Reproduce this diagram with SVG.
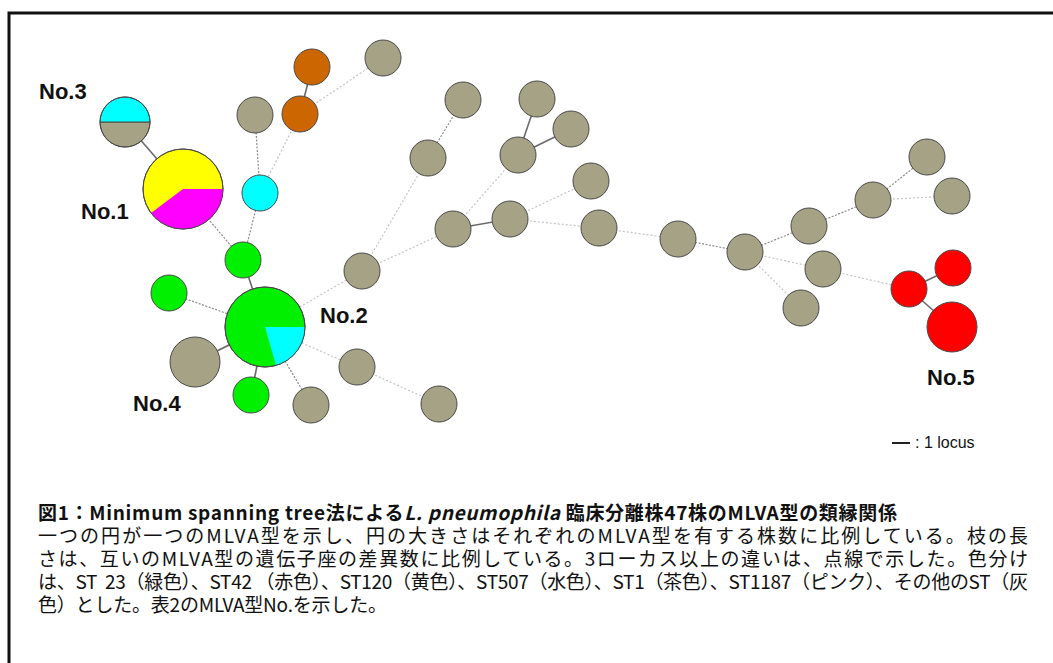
<svg xmlns="http://www.w3.org/2000/svg" width="1053" height="663" viewBox="0 0 1053 663">
<style>
.s{stroke:#6a6a6a;stroke-width:1.6;fill:none}
.d{stroke:#c4c4c4;stroke-width:1.2;stroke-dasharray:2 2;fill:none}
.dd{stroke:#8c8c8c;stroke-width:1.2;stroke-dasharray:2 1.5;fill:none}
.nd circle,.nd path{stroke:#4a4a4a;stroke-width:1}
.gy{fill:#a5a285}
.gn{fill:#00f000}
.cy{fill:#00ffff}
.ye{fill:#ffff00}
.mg{fill:#ff00ff}
.or{fill:#cc6600}
.rd{fill:#ff0000}
.lb{font-family:"Liberation Sans",Arial,sans-serif;font-weight:bold;font-size:22px;fill:#111}
.cap{font-family:"Noto Sans CJK JP","Liberation Sans",sans-serif;font-size:19px;fill:#111}
.leg{font-family:"Liberation Sans",Arial,sans-serif;font-size:16px;fill:#111}
</style>
<path d="M9,663 V13 H1053" fill="none" stroke="#111" stroke-width="3"/>
<g id="connectors">
<line class="s" x1="125" y1="122" x2="183" y2="189"/>
<line class="dd" x1="183" y1="189" x2="243" y2="260"/>
<line class="dd" x1="255" y1="115" x2="260" y2="193"/>
<line class="d" x1="300" y1="114" x2="260" y2="193"/>
<line class="s" x1="312" y1="67" x2="300" y2="114"/>
<line class="d" x1="300" y1="114" x2="383" y2="58"/>
<line class="dd" x1="260" y1="193" x2="243" y2="260"/>
<line class="s" x1="243" y1="260" x2="265" y2="327"/>
<line class="dd" x1="169" y1="293" x2="265" y2="327"/>
<line class="s" x1="195" y1="362" x2="265" y2="327"/>
<line class="s" x1="251" y1="395" x2="265" y2="327"/>
<line class="dd" x1="311" y1="405" x2="265" y2="327"/>
<line class="d" x1="265" y1="327" x2="357" y2="367"/>
<line class="d" x1="357" y1="367" x2="439" y2="404"/>
<line class="d" x1="265" y1="327" x2="362" y2="271"/>
<line class="d" x1="362" y1="271" x2="428" y2="158"/>
<line class="dd" x1="428" y1="158" x2="463" y2="100"/>
<line class="d" x1="362" y1="271" x2="453" y2="229"/>
<line class="s" x1="453" y1="229" x2="510" y2="219"/>
<line class="d" x1="453" y1="229" x2="518" y2="155"/>
<line class="s" x1="518" y1="155" x2="537" y2="99"/>
<line class="s" x1="518" y1="155" x2="571" y2="129"/>
<line class="d" x1="510" y1="219" x2="591" y2="181"/>
<line class="d" x1="510" y1="219" x2="599" y2="228"/>
<line class="d" x1="599" y1="228" x2="678" y2="239"/>
<line class="dd" x1="678" y1="239" x2="745" y2="252"/>
<line class="dd" x1="745" y1="252" x2="809" y2="226"/>
<line class="dd" x1="809" y1="226" x2="873" y2="200"/>
<line class="dd" x1="873" y1="200" x2="927" y2="157"/>
<line class="d" x1="873" y1="200" x2="952" y2="196"/>
<line class="d" x1="745" y1="252" x2="823" y2="269"/>
<line class="d" x1="745" y1="252" x2="801" y2="308"/>
<line class="d" x1="823" y1="269" x2="909" y2="289"/>
<line class="s" x1="909" y1="289" x2="953" y2="268"/>
<line class="s" x1="909" y1="289" x2="952" y2="327"/>
</g>
<g id="node-no3" class="nd">
<path class="gy" d="M100,122 A25,25 0 0 0 150,122 Z"/>
<path class="cy" d="M100,122 A25,25 0 0 1 150,122 Z"/>
<circle cx="125" cy="122" r="25" fill="none"/>
</g>
<g id="node-no1" class="nd">
<circle class="ye" cx="183" cy="189" r="40"/>
<path class="mg" d="M183,189 L223,189 A40,40 0 0 1 151.1,213.1 Z" style="stroke:none"/>
<circle cx="183" cy="189" r="40" fill="none"/>
</g>
<g id="node-o1" class="nd"><circle class="or" cx="312" cy="67" r="18"/></g>
<g id="node-o2" class="nd"><circle class="or" cx="300" cy="114" r="18"/></g>
<g id="node-g1" class="nd"><circle class="gy" cx="255" cy="115" r="18"/></g>
<g id="node-g2" class="nd"><circle class="gy" cx="383" cy="58" r="18"/></g>
<g id="node-c1" class="nd"><circle class="cy" cx="260" cy="193" r="18"/></g>
<g id="node-gr1" class="nd"><circle class="gn" cx="243" cy="260" r="18"/></g>
<g id="node-gr2" class="nd"><circle class="gn" cx="169" cy="293" r="18"/></g>
<g id="node-no2" class="nd">
<circle class="gn" cx="265" cy="327" r="40"/>
<path class="cy" d="M265,327 L305,327 A40,40 0 0 1 276,365.5 Z" style="stroke:none"/>
<circle cx="265" cy="327" r="40" fill="none"/>
</g>
<g id="node-no4" class="nd"><circle class="gy" cx="195" cy="362" r="25"/></g>
<g id="node-gr3" class="nd"><circle class="gn" cx="251" cy="395" r="18"/></g>
<g id="node-g3" class="nd"><circle class="gy" cx="311" cy="405" r="18"/></g>
<g id="node-g4" class="nd"><circle class="gy" cx="357" cy="367" r="18"/></g>
<g id="node-g5" class="nd"><circle class="gy" cx="439" cy="404" r="18"/></g>
<g id="node-g6" class="nd"><circle class="gy" cx="362" cy="271" r="18"/></g>
<g id="node-g7" class="nd"><circle class="gy" cx="428" cy="158" r="18"/></g>
<g id="node-g8" class="nd"><circle class="gy" cx="463" cy="100" r="18"/></g>
<g id="node-g9" class="nd"><circle class="gy" cx="453" cy="229" r="18"/></g>
<g id="node-g10" class="nd"><circle class="gy" cx="510" cy="219" r="18"/></g>
<g id="node-g11" class="nd"><circle class="gy" cx="518" cy="155" r="18"/></g>
<g id="node-g12" class="nd"><circle class="gy" cx="537" cy="99" r="18"/></g>
<g id="node-g13" class="nd"><circle class="gy" cx="571" cy="129" r="18"/></g>
<g id="node-g14" class="nd"><circle class="gy" cx="591" cy="181" r="18"/></g>
<g id="node-g15" class="nd"><circle class="gy" cx="599" cy="228" r="18"/></g>
<g id="node-g16" class="nd"><circle class="gy" cx="678" cy="239" r="18"/></g>
<g id="node-g17" class="nd"><circle class="gy" cx="745" cy="252" r="18"/></g>
<g id="node-g18" class="nd"><circle class="gy" cx="809" cy="226" r="18"/></g>
<g id="node-g19" class="nd"><circle class="gy" cx="873" cy="200" r="18"/></g>
<g id="node-g20" class="nd"><circle class="gy" cx="927" cy="157" r="18"/></g>
<g id="node-g21" class="nd"><circle class="gy" cx="952" cy="196" r="18"/></g>
<g id="node-g22" class="nd"><circle class="gy" cx="823" cy="269" r="18"/></g>
<g id="node-g23" class="nd"><circle class="gy" cx="801" cy="308" r="18"/></g>
<g id="node-r1" class="nd"><circle class="rd" cx="909" cy="289" r="18"/></g>
<g id="node-r2" class="nd"><circle class="rd" cx="953" cy="268" r="18"/></g>
<g id="node-no5" class="nd"><circle class="rd" cx="952" cy="327" r="25"/></g>
<g id="labels">
<text class="lb" x="39" y="99">No.3</text>
<text class="lb" x="81" y="219">No.1</text>
<text class="lb" x="320" y="323">No.2</text>
<text class="lb" x="133" y="411">No.4</text>
<text class="lb" x="927" y="385">No.5</text>
</g>
<g id="legend">
<line x1="892" y1="443" x2="910" y2="443" stroke="#222" stroke-width="2"/>
<text class="leg" x="915" y="448">: 1 locus</text>
</g>
<g id="caption" class="cap">
<text x="38" y="520" font-weight="bold" textLength="859">図1：Minimum spanning tree法による<tspan font-style="italic">L. pneumophila</tspan> 臨床分離株47株のMLVA型の類縁関係</text>
<text x="38" y="543" textLength="990">一つの円が一つのMLVA型を示し、円の大きさはそれぞれのMLVA型を有する株数に比例している。枝の長</text>
<text x="38" y="566" textLength="990">さは、互いのMLVA型の遺伝子座の差異数に比例している。3ローカス以上の違いは、点線で示した。色分け</text>
<text x="38" y="589" textLength="990" style="white-space:pre" xml:space="preserve">は、ST  23（緑色）、ST42 （赤色）、ST120（黄色）、ST507（水色）、ST1（茶色）、ST1187（ピンク）、その他のST（灰</text>
<text x="38" y="612" textLength="349">色）とした。表2のMLVA型No.を示した。</text>
</g>
</svg>
